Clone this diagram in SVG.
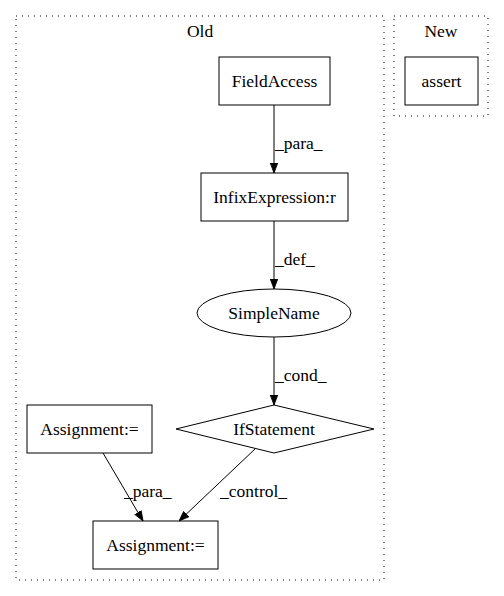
<svg xmlns="http://www.w3.org/2000/svg" width="504" height="596" viewBox="0 0 504 596" font-family="'Liberation Serif', 'Times New Roman', serif">
<defs>
<style>
text{font-family:'Liberation Serif','Times New Roman',serif;font-size:17.5px;fill:#000;text-anchor:middle}
.cl{fill:none;stroke:#000;stroke-dasharray:1,5}
.n{fill:none;stroke:#000;stroke-width:1}
.e{fill:none;stroke:#000;stroke-width:1}
.lbl{text-anchor:start}
</style>
<marker id="ah" markerWidth="10" markerHeight="12" refX="12" refY="6" orient="auto" markerUnits="userSpaceOnUse" viewBox="0 0 12 12">
<polygon points="0,1.5 12,6 0,10.5" fill="#000" stroke="#000"/>
</marker>
</defs>
<rect width="504" height="596" fill="#fff"/>
<g id="cluster_old">
<rect class="cl" x="16" y="16" width="368" height="564"/>
<text x="200" y="37">Old</text>
</g>
<g id="cluster_new">
<rect class="cl" x="394" y="16" width="94" height="100"/>
<text x="441" y="37">New</text>
</g>
<g id="edges">
<path class="e" d="M274,105 L274,173" marker-end="url(#ah)"/>
<text class="lbl" x="275" y="149">_para_</text>
<path class="e" d="M274,221 L274,289" marker-end="url(#ah)"/>
<text class="lbl" x="275" y="265">_def_</text>
<path class="e" d="M274,337 L274,405" marker-end="url(#ah)"/>
<text class="lbl" x="275" y="381">_cond_</text>
<path class="e" d="M103,453 L143,521" marker-end="url(#ah)"/>
<text class="lbl" x="124" y="497">_para_</text>
<path class="e" d="M255,449 L179,521" marker-end="url(#ah)"/>
<text class="lbl" x="220" y="497">_control_</text>
</g>
<g id="FieldAccess">
<rect class="n" x="219" y="57" width="111" height="48"/>
<text x="274.5" y="87">FieldAccess</text>
</g>
<g id="assert">
<rect class="n" x="405" y="57" width="73" height="48"/>
<text x="441.5" y="87">assert</text>
</g>
<g id="InfixExpression">
<rect class="n" x="201" y="173" width="147" height="48"/>
<text x="274.5" y="203">InfixExpression:r</text>
</g>
<g id="SimpleName">
<ellipse class="n" cx="274" cy="313" rx="77" ry="24"/>
<text x="274" y="319">SimpleName</text>
</g>
<g id="IfStatement">
<polygon class="n" points="274,405 374,429 274,453 176,429"/>
<text x="274" y="435">IfStatement</text>
</g>
<g id="Assignment1">
<rect class="n" x="27" y="405" width="125" height="48"/>
<text x="89.5" y="435">Assignment:=</text>
</g>
<g id="Assignment2">
<rect class="n" x="93" y="521" width="125" height="48"/>
<text x="155.5" y="551">Assignment:=</text>
</g>
</svg>
